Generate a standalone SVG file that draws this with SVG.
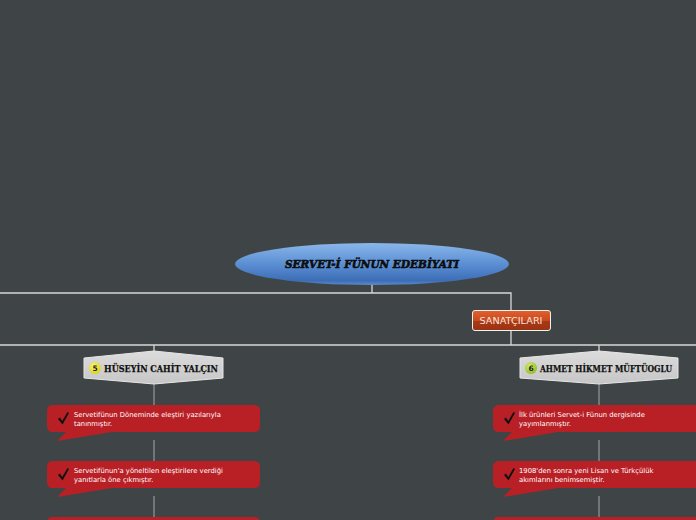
<svg xmlns="http://www.w3.org/2000/svg" width="696" height="520" viewBox="0 0 696 520">
<defs>
<linearGradient id="gBlue" x1="0" y1="0" x2="0" y2="1">
<stop offset="0" stop-color="#8ab6ea"/>
<stop offset="0.5" stop-color="#5b8fd3"/>
<stop offset="0.9" stop-color="#3c6db6"/>
<stop offset="1" stop-color="#5a8ccc"/>
</linearGradient>
<linearGradient id="gOrange" x1="0" y1="0" x2="0" y2="1">
<stop offset="0" stop-color="#e2602e"/>
<stop offset="0.5" stop-color="#c94a20"/>
<stop offset="0.55" stop-color="#a83816"/>
<stop offset="1" stop-color="#9a3314"/>
</linearGradient>
<linearGradient id="gGrey" x1="0" y1="0" x2="0" y2="1">
<stop offset="0" stop-color="#dcdcdc"/>
<stop offset="1" stop-color="#c6c6c6"/>
</linearGradient>
<radialGradient id="gYellow" cx="0.4" cy="0.35" r="0.7">
<stop offset="0" stop-color="#f8f680"/>
<stop offset="1" stop-color="#d8d210"/>
</radialGradient>
<radialGradient id="gGreen" cx="0.4" cy="0.35" r="0.7">
<stop offset="0" stop-color="#d4ec70"/>
<stop offset="1" stop-color="#8cbc1c"/>
</radialGradient>
<path id="check" d="M0,5 L2,3.5 L4.2,7 L9.5,-2 L11,-1 L4.5,10.5 Z"/>
</defs>
<style>
.main{stroke:#d8d8d8;stroke-width:1.3;fill:none}
.sub{stroke:#a8a8a8;stroke-width:1;fill:none}
.call{fill:#b92026}
.ct{font-family:"DejaVu Sans",sans-serif;font-size:6.8px;fill:#ffffff}
.nt{font-family:"DejaVu Serif Condensed","DejaVu Serif",serif;font-stretch:condensed;font-weight:bold;font-size:10px;fill:#111;stroke:#111;stroke-width:0.25}
.hex{fill:url(#gGrey);stroke:#e6e6e6;stroke-width:1;stroke-linejoin:round}
</style>
<rect width="696" height="520" fill="#3f4546"/>
<g id="connectors">
<path class="main" d="M372,284 V293 M0,293 H511 V311 M511,330 V345 M0,345 H696 M154,345 V352 M599,345 V352"/>
<path class="sub" d="M154,384 V405 M154,440 V461 M154,496 V517 M599,384 V405 M599,440 V461 M599,496 V517"/>
</g>
<g id="root">
<ellipse cx="372" cy="264" rx="137" ry="21" fill="url(#gBlue)"/>
<text x="372" y="268" text-anchor="middle" font-family="DejaVu Serif,serif" font-weight="bold" font-style="italic" font-size="11.5" fill="#0d0d0d" stroke="#0d0d0d" stroke-width="0.6" textLength="174" lengthAdjust="spacingAndGlyphs">SERVET-İ FÜNUN EDEBİYATI</text>
</g>
<g id="sanatcilari">
<rect x="472.5" y="310.5" width="78" height="20" rx="2.5" fill="url(#gOrange)" stroke="#f2f2f2" stroke-width="1"/>
<text x="511" y="324" text-anchor="middle" font-family="DejaVu Sans,sans-serif" font-size="8.5" fill="#fbe6dc" textLength="63" lengthAdjust="spacingAndGlyphs">SANATÇILARI</text>
</g>
<g id="huseyin">
<path class="hex" d="M84,358 L154,351 L223,358 L223,378 L154,384 L84,378 Z"/>
<circle cx="95" cy="368" r="6" fill="url(#gYellow)"/>
<text x="95" y="371" text-anchor="middle" font-family="DejaVu Sans,sans-serif" font-weight="bold" font-size="7.5" fill="#222">5</text>
<text class="nt" x="104" y="372" textLength="114" lengthAdjust="spacingAndGlyphs">HÜSEYİN CAHİT YALÇIN</text>
</g>
<g id="ahmet">
<path class="hex" d="M520,358 L599,351 L678,358 L678,378 L599,384 L520,378 Z"/>
<circle cx="531" cy="368" r="6" fill="url(#gGreen)"/>
<text x="531" y="371" text-anchor="middle" font-family="DejaVu Sans,sans-serif" font-weight="bold" font-size="7.5" fill="#222">6</text>
<text class="nt" x="540" y="372" textLength="132" lengthAdjust="spacingAndGlyphs">AHMET HİKMET MÜFTÜOGLU</text>
</g>
<g id="h1">
<path class="call" d="M53,405 H254 Q260,405 260,411 V426 Q260,432 254,432 H112 L57,441 L66,432 H53 Q47,432 47,426 V411 Q47,405 53,405 Z"/>
<use href="#check" x="58" y="414" fill="#111"/>
<text class="ct" x="74" y="416.5">Servetifünun Döneminde eleştiri yazılarıyla</text>
<text class="ct" x="74" y="425.5">tanınmıştır.</text>
</g>
<g id="h2">
<path class="call" d="M53,461 H254 Q260,461 260,467 V482 Q260,488 254,488 H112 L57,497 L66,488 H53 Q47,488 47,482 V467 Q47,461 53,461 Z"/>
<use href="#check" x="58" y="470" fill="#111"/>
<text class="ct" x="74" y="472.5">Servetifünun'a yöneltilen eleştirilere verdiği</text>
<text class="ct" x="74" y="481.5">yanıtlarla öne çıkmıştır.</text>
</g>
<g id="h3">
<path class="call" d="M53,517 H254 Q260,517 260,523 V544 H47 V523 Q47,517 53,517 Z"/>
</g>
<g id="a1">
<path class="call" d="M499,405 H700 V432 H558 L503,441 L512,432 H499 Q493,432 493,426 V411 Q493,405 499,405 Z"/>
<use href="#check" x="504" y="414" fill="#111"/>
<text class="ct" x="519" y="416.5">İlk ürünleri Servet-i Fünun dergisinde</text>
<text class="ct" x="519" y="425.5">yayımlanmıştır.</text>
</g>
<g id="a2">
<path class="call" d="M499,461 H700 V488 H558 L503,497 L512,488 H499 Q493,488 493,482 V467 Q493,461 499,461 Z"/>
<use href="#check" x="504" y="470" fill="#111"/>
<text class="ct" x="519" y="472.5">1908'den sonra yeni Lisan ve Türkçülük</text>
<text class="ct" x="519" y="481.5">akımlarını benimsemiştir.</text>
</g>
<g id="a3">
<path class="call" d="M499,517 H700 V544 H493 V523 Q493,517 499,517 Z"/>
</g>
</svg>
